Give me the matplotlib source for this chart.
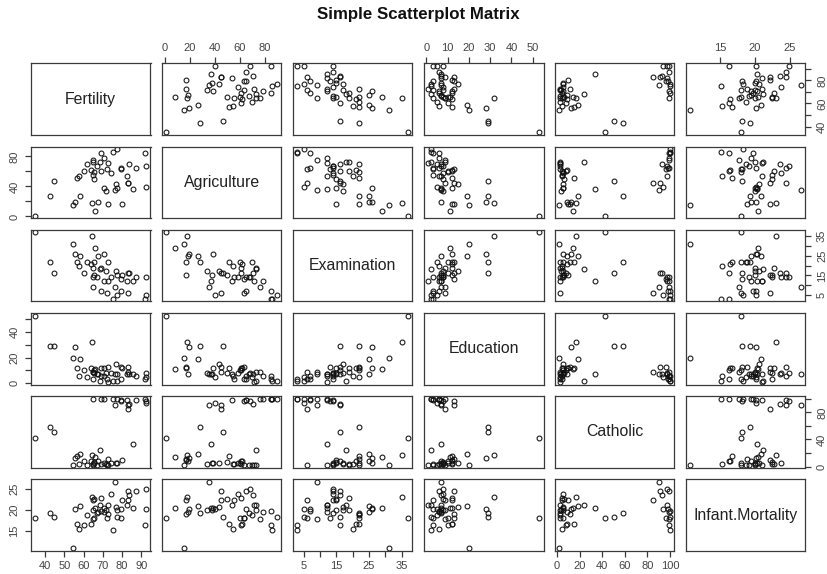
import matplotlib
matplotlib.use("Agg")
import matplotlib.pyplot as plt

# Swiss fertility and socio-economic indicators (1888), 47 provinces
names = ["Fertility", "Agriculture", "Examination", "Education", "Catholic", "Infant.Mortality"]

fertility = [80.2, 83.1, 92.5, 85.8, 76.9, 76.1, 83.8, 92.4, 82.4, 82.9, 87.1, 64.1, 66.9, 68.9,
             61.7, 68.3, 71.7, 55.7, 54.3, 65.1, 65.5, 65.0, 56.6, 57.4, 72.5, 74.2, 72.0, 60.5,
             58.3, 65.4, 75.5, 69.3, 77.3, 70.5, 79.4, 65.0, 92.2, 79.3, 70.4, 65.7, 72.7, 64.4,
             77.6, 67.6, 35.0, 44.7, 42.8]
agriculture = [17.0, 45.1, 39.7, 36.5, 43.5, 35.3, 70.2, 67.8, 53.3, 45.2, 64.5, 62.0, 67.5, 60.7,
               69.3, 72.6, 34.0, 19.4, 15.2, 73.0, 59.8, 55.1, 50.9, 54.1, 71.2, 58.1, 63.5, 60.8,
               26.8, 49.5, 85.9, 84.9, 89.7, 78.2, 64.9, 75.9, 84.6, 63.1, 38.4, 7.7, 16.7, 17.6,
               37.6, 18.7, 1.2, 46.6, 27.7]
examination = [15, 6, 5, 12, 17, 9, 16, 14, 12, 16, 14, 21, 14, 19, 22, 18, 17, 26, 31, 19, 22, 14,
               22, 20, 12, 14, 6, 16, 25, 15, 3, 7, 5, 12, 7, 9, 3, 13, 26, 29, 22, 35, 15, 25, 37,
               16, 22]
education = [12, 9, 5, 7, 15, 7, 7, 8, 7, 13, 6, 12, 7, 12, 5, 2, 8, 28, 20, 9, 10, 3, 12, 6, 1, 8,
             3, 10, 19, 8, 2, 6, 2, 6, 3, 9, 3, 13, 12, 11, 13, 32, 7, 7, 53, 29, 29]
catholic = [9.96, 84.84, 93.40, 33.77, 5.16, 90.57, 92.85, 97.16, 97.67, 91.38, 98.61, 8.52, 2.27,
            4.43, 2.82, 24.20, 3.30, 12.11, 2.15, 2.84, 5.23, 4.52, 15.14, 4.20, 2.40, 5.23, 2.56,
            7.72, 18.46, 6.10, 99.71, 99.68, 100.00, 98.96, 98.22, 99.06, 99.46, 96.83, 5.62,
            13.79, 11.22, 16.92, 4.97, 8.65, 42.34, 50.43, 58.33]
infant_mortality = [22.2, 22.2, 20.2, 20.3, 20.6, 26.6, 23.6, 24.9, 21.0, 24.4, 24.5, 16.5, 19.1,
                    22.7, 18.7, 21.2, 20.0, 20.2, 10.8, 20.0, 18.0, 22.4, 16.7, 15.3, 21.0, 23.8,
                    18.0, 16.3, 20.9, 22.5, 15.1, 19.8, 18.3, 19.4, 20.2, 17.8, 16.3, 18.1, 20.3,
                    20.5, 18.9, 23.0, 20.0, 19.5, 18.0, 18.2, 19.3]

columns = [fertility, agriculture, examination, education, catholic, infant_mortality]

# tick positions and which of them carry a label
tick_pos = [[40, 50, 60, 70, 80, 90],
            [0, 20, 40, 60, 80],
            [5, 10, 15, 20, 25, 30, 35],
            [0, 10, 20, 30, 40, 50],
            [0, 20, 40, 60, 80, 100],
            [15, 20, 25]]
x_labels = [["40", "50", "60", "70", "80", "90"],
            ["0", "20", "40", "60", "80"],
            ["5", "", "15", "", "25", "", "35"],
            ["0", "10", "20", "30", "40", "50"],
            ["0", "20", "40", "60", "80", "100"],
            ["15", "20", "25"]]
y_labels = [["40", "", "60", "", "80", ""],
            ["0", "", "40", "", "80"],
            ["5", "", "15", "", "25", "", "35"],
            ["0", "", "20", "", "40", ""],
            ["0", "", "40", "", "80", ""],
            ["15", "20", "25"]]

W, H = 828, 574
fig = plt.figure(figsize=(W / 100, H / 100), dpi=100)
fig.patch.set_facecolor("white")

left, top = 31, 63.3
pw, ph, gap = 119.5, 71.7, 11.5
n = len(names)

border = "#3a3a3a"
tick_col = "#444444"


def padded(vals):
    lo, hi = min(vals), max(vals)
    d = (hi - lo) * 0.04
    return lo - d, hi + d


for i in range(n):
    for j in range(n):
        x0 = left + j * (pw + gap)
        y0 = top + i * (ph + gap)
        ax = fig.add_axes([x0 / W, 1 - (y0 + ph) / H, pw / W, ph / H])
        for s in ax.spines.values():
            s.set_color(border)
            s.set_linewidth(0.9)
        ax.set_xlim(*padded(columns[j]))
        ax.set_ylim(*padded(columns[i]))

        if i == j:
            ax.text(0.5, 0.5, names[i], transform=ax.transAxes, ha="center", va="center",
                    fontsize=11.4, color="#222222", family="Liberation Sans")
        else:
            ax.plot(columns[j], columns[i], "o", mfc="none", mec="#111111", ms=3.5, mew=0.75)

        ax.set_xticks([])
        ax.set_yticks([])

        # column axes alternate bottom / top, row axes alternate right / left
        if i == 0 and j % 2 == 1:
            ax.xaxis.set_ticks_position("top")
            ax.set_xticks(tick_pos[j])
            ax.set_xticklabels(x_labels[j])
        if i == n - 1 and j % 2 == 0:
            ax.xaxis.set_ticks_position("bottom")
            ax.set_xticks(tick_pos[j])
            ax.set_xticklabels(x_labels[j])
        if j == 0 and i % 2 == 1:
            ax.yaxis.set_ticks_position("left")
            ax.set_yticks(tick_pos[i])
            ax.set_yticklabels(y_labels[i], rotation=90, va="center")
        if j == n - 1 and i % 2 == 0:
            ax.yaxis.set_ticks_position("right")
            ax.set_yticks(tick_pos[i])
            ax.set_yticklabels(y_labels[i], rotation=90, va="center")

        ax.tick_params(axis="both", length=4.3, width=0.9, color=border, pad=3,
                       labelsize=8, labelcolor=tick_col)
        ax.tick_params(axis="y", pad=4)
        for lab in ax.get_xticklabels() + ax.get_yticklabels():
            lab.set_family("Liberation Sans")

fig.text(418 / W, 1 - 14 / H, "Simple Scatterplot Matrix", ha="center", va="center",
         fontsize=12.2, fontweight="bold", family="Liberation Sans", color="#111111")

fig.savefig("out.png", dpi=100)
